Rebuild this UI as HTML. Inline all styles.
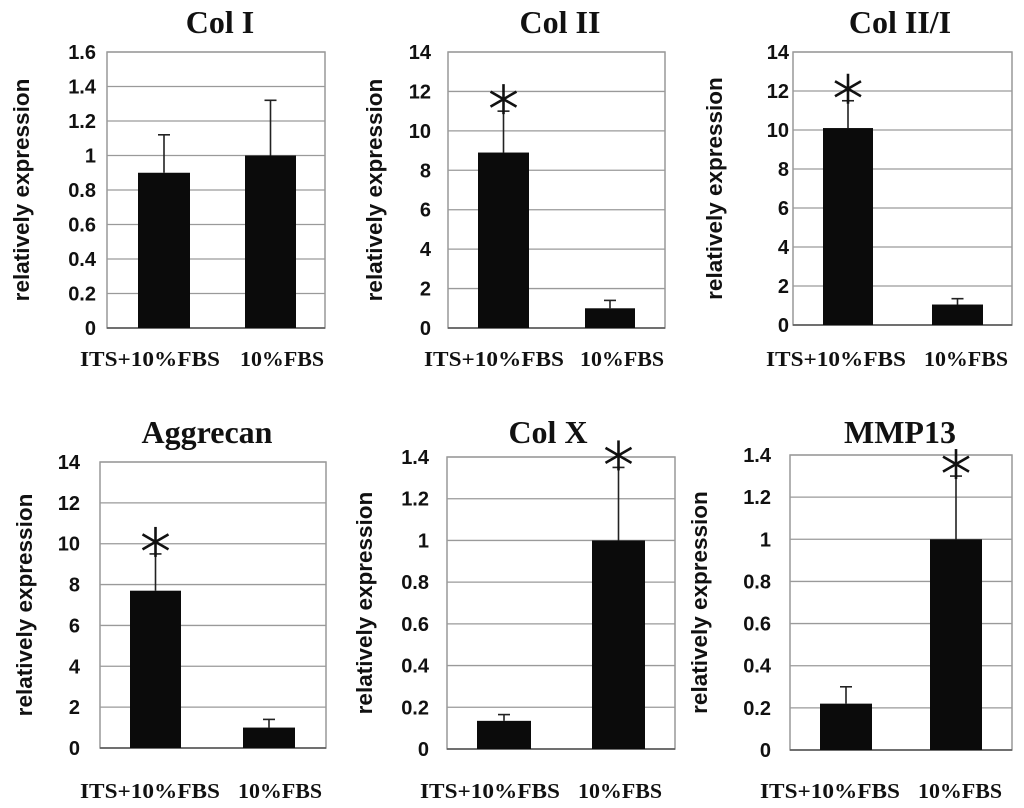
<!DOCTYPE html>
<html><head><meta charset="utf-8"><style>
html,body{margin:0;padding:0;background:#fff;}
svg{display:block}
</style></head><body>
<svg id="fig" width="1024" height="808" viewBox="0 0 1024 808" xmlns="http://www.w3.org/2000/svg"></svg>
<script>
const categories = ["ITS+10%FBS", "10%FBS"];
const titles = ["Col I", "Col II", "Col II/I", "Aggrecan", "Col X", "MMP13"];
const valuesColI = [0.9, 1.0];
const errorsColI = [1.12, 1.32];
const valuesColII = [8.9, 1.0];
const errorsColII = [11.0, 1.4];
const valuesColIII = [10.1, 1.05];
const errorsColIII = [11.5, 1.35];
const valuesAggrecan = [7.7, 1.0];
const errorsAggrecan = [9.5, 1.4];
const valuesColX = [0.135, 1.0];
const errorsColX = [0.165, 1.35];
const valuesMMP13 = [0.22, 1.0];
const errorsMMP13 = [0.3, 1.3];
const ticksSmall = ["0","0.2","0.4","0.6","0.8","1","1.2","1.4","1.6"];
const ticksLarge = ["0","2","4","6","8","10","12","14"];
const ticksMid = ["0","0.2","0.4","0.6","0.8","1","1.2","1.4"];
const significant = [[false,false],[true,false],[true,false],[true,false],[false,true],[false,true]];

const NS="http://www.w3.org/2000/svg";
const svg=document.getElementById('fig');
function mk(tag,attrs,parent){const e=document.createElementNS(NS,tag);for(const k in attrs)e.setAttribute(k,attrs[k]);(parent||svg).appendChild(e);return e;}

const layouts=[
 {L:107,R:325,T:52,B:328,bars:[[138,190],[245,296]],tickR:96,yt:22,tx:220,ty:33,xl:[150,282],xly:366},
 {L:448,R:665,T:52,B:328,bars:[[478,529],[585,635]],tickR:431,yt:375,tx:560,ty:33,xl:[494,622],xly:366},
 {L:793,R:1012,T:52,B:325,bars:[[823,873],[932,983]],tickR:789,yt:715,tx:900,ty:33,xl:[836,966],xly:366},
 {L:100,R:326,T:462,B:748,bars:[[130,181],[243,295]],tickR:80,yt:25,tx:207,ty:443,xl:[150,280],xly:798},
 {L:447,R:675,T:457,B:749,bars:[[477,531],[592,645]],tickR:429,yt:365,tx:548,ty:443,xl:[490,620],xly:798},
 {L:790,R:1012,T:455,B:750,bars:[[820,872],[930,982]],tickR:771,yt:700,tx:900,ty:443,xl:[830,960],xly:798}
];
const labelW=[140,84];
const vals=[valuesColI,valuesColII,valuesColIII,valuesAggrecan,valuesColX,valuesMMP13];
const errs=[errorsColI,errorsColII,errorsColIII,errorsAggrecan,errorsColX,errorsMMP13];
const ticks=[ticksSmall,ticksLarge,ticksLarge,ticksLarge,ticksMid,ticksMid];

layouts.forEach((p,i)=>{
  const g=mk('g',{});
  
  
  const tk=ticks[i];
  const max=parseFloat(tk[tk.length-1]);
  const y=v=>p.B-(v/max)*(p.B-p.T);
  mk('rect',{x:p.L,y:p.T,width:p.R-p.L,height:p.B-p.T,fill:'#fff',stroke:'#999','stroke-width':1.5},g);
  tk.forEach(t=>{
    const yy=y(parseFloat(t));
    const gl=mk('line',{x1:p.L,x2:p.R,y1:yy,y2:yy,stroke:'#9a9a9a','stroke-width':1.3},g);
    
    
    const tl=mk('text',{x:p.tickR,y:yy+7,'text-anchor':'end','font-family':'Liberation Sans, sans-serif','font-weight':'bold','font-size':20,fill:'#111'},g);
    tl.textContent=t;
    
    
  });
  mk('line',{x1:p.L,x2:p.R,y1:p.B,y2:p.B,stroke:'#555','stroke-width':1.5},g);
  vals[i].forEach((v,j)=>{
    const [x0,x1]=p.bars[j];
    const cx=(x0+x1)/2;
    const ey=y(errs[i][j]);
    const el=mk('line',{x1:cx,x2:cx,y1:y(v),y2:ey,stroke:'#222','stroke-width':1.6},g);
    
    
    mk('line',{x1:cx-6,x2:cx+6,y1:ey,y2:ey,stroke:'#222','stroke-width':1.6},g);
    const b=mk('rect',{x:x0,y:y(v),width:x1-x0,height:p.B-y(v),fill:'#0b0b0b'},g);
    
    
    if(significant[i][j]){
      const ay=ey-12, r=15;
      const ag=mk('g',{},g);
      
      
      [90,30,150].forEach(d=>{
        const a=d*Math.PI/180;
        mk('line',{x1:cx-r*Math.cos(a),y1:ay-r*Math.sin(a),x2:cx+r*Math.cos(a),y2:ay+r*Math.sin(a),stroke:'#111','stroke-width':2.6},ag);
      });
    }
    const xl=mk('text',{x:p.xl[j],y:p.xly,'text-anchor':'middle','font-family':'Liberation Serif, serif','font-weight':'bold','font-size':21,fill:'#111',textLength:labelW[j],lengthAdjust:'spacingAndGlyphs'},g);
    xl.textContent=categories[j];
    
    
  });
  const t=mk('text',{x:p.tx,y:p.ty,'text-anchor':'middle','font-family':'Liberation Serif, serif','font-weight':'bold','font-size':32,fill:'#111'},g);
  t.textContent=titles[i];
  
  
  const cy=(p.T+p.B)/2;
  const yt=mk('text',{x:p.yt+7,y:cy,'text-anchor':'middle','font-family':'Liberation Sans, sans-serif','font-weight':'bold','font-size':22.5,fill:'#111',transform:'rotate(-90 '+(p.yt+7)+' '+cy+')'},g);
  yt.textContent='relatively expression';
  
  
});
</script>
</body></html>
